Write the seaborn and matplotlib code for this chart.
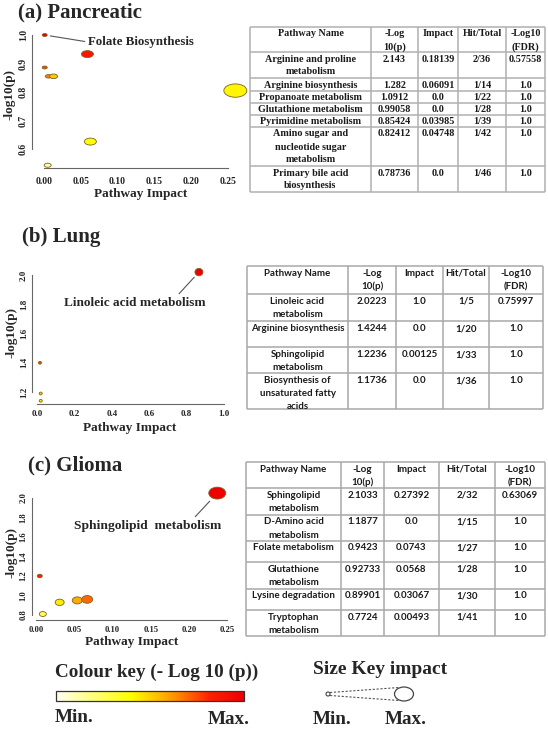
import numpy as np
import pandas as pd
import seaborn as sns
import matplotlib.pyplot as plt
from matplotlib.colors import LinearSegmentedColormap
from matplotlib.patches import Rectangle, Ellipse
from matplotlib.path import Path
from matplotlib.transforms import Affine2D

W, H = 548, 732

# ---- bubble data ----
# (a) Pancreatic
panc_impact = [0.001, 0.059, 0.001, 0.006, 0.013, 0.260, 0.063, 0.005]
panc_logp = [1.000, 0.933, 0.886, 0.855, 0.855, 0.805, 0.626, 0.543]
panc_colour = [1.00, 0.88, 0.76, 0.66, 0.52, 0.42, 0.40, 0.12]
panc_width = [5, 12, 5, 6, 8, 23, 12, 7]

# (b) Lung
lung_impact = [0.866, 0.016, 0.020, 0.020]
lung_logp = [2.02, 1.40, 1.19, 1.14]
lung_colour = [1.00, 0.78, 0.50, 0.45]
lung_width = [8, 3, 3, 3]

# (c) Glioma
glio_impact = [0.237, 0.005, 0.031, 0.054, 0.067, 0.009]
glio_logp = [2.05, 1.20, 0.93, 0.95, 0.96, 0.81]
glio_colour = [1.00, 0.84, 0.44, 0.58, 0.70, 0.25]
glio_width = [17, 5, 9, 10, 11, 7]

# ---- table contents ----
table_header = ["Pathway Name", "-Log\n10(p)", "Impact", "Hit/Total", "-Log10\n(FDR)"]

panc_names = ["Arginine and proline\nmetabolism", "Arginine biosynthesis",
              "Propanoate metabolism", "Glutathione metabolism",
              "Pyrimidine metabolism", "Amino sugar and\nnucleotide sugar\nmetabolism",
              "Primary bile acid\nbiosynthesis"]
panc_tab_logp = ["2.143", "1.282", "1.0912", "0.99058", "0.85424", "0.82412", "0.78736"]
panc_tab_impact = ["0.18139", "0.06091", "0.0", "0.0", "0.03985", "0.04748", "0.0"]
panc_hits = ["2/36", "1/14", "1/22", "1/28", "1/39", "1/42", "1/46"]
panc_fdr = ["0.57558", "1.0", "1.0", "1.0", "1.0", "1.0", "1.0"]

lung_names = ["Linoleic acid\nmetabolism", "Arginine biosynthesis",
              "Sphingolipid\nmetabolism", "Biosynthesis of\nunsaturated fatty\nacids"]
lung_tab_logp = ["2.0223", "1.4244", "1.2236", "1.1736"]
lung_tab_impact = ["1.0", "0.0", "0.00125", "0.0"]
lung_hits = ["1/5", "1/20", "1/33", "1/36"]
lung_fdr = ["0.75997", "1.0", "1.0", "1.0"]

glio_names = ["Sphingolipid\nmetabolism", "D-Amino acid\nmetabolism", "Folate metabolism",
              "Glutathione\nmetabolism", "Lysine degradation", "Tryptophan\nmetabolism"]
glio_tab_logp = ["2.1033", "1.1877", "0.9423", "0.92733", "0.89901", "0.7724"]
glio_tab_impact = ["0.27392", "0.0", "0.0743", "0.0568", "0.03067", "0.00493"]
glio_hits = ["2/32", "1/15", "1/27", "1/28", "1/30", "1/41"]
glio_fdr = ["0.63069", "1.0", "1.0", "1.0", "1.0", "1.0"]

# ---- style ----
sns.set_style("white")
plt.rcParams["font.family"] = ["Liberation Serif", "DejaVu Serif"]
plt.rcParams["font.weight"] = "bold"
plt.rcParams["axes.labelweight"] = "bold"

heat = LinearSegmentedColormap.from_list(
    "heat", [(0.0, "#fffff2"), (0.4, "#ffff00"), (0.62, "#ff9900"),
             (0.82, "#ff2000"), (1.0, "#ee0000")])

fig = plt.figure(figsize=(W / 100, H / 100), dpi=100)
overlay = fig.add_axes([0, 0, 1, 1], zorder=0)
overlay.axis("off")


def px_axes(left, top, right, bottom):
    return fig.add_axes([left / W, 1 - bottom / H, (right - left) / W, (bottom - top) / H],
                        zorder=2)


def bubble_panel(box, impact, logp, colour, width, squash, xlim, ylim,
                 xticks, yticks, xfmt, tick_size, ylab_px, xlab_px, lab_size):
    ax = px_axes(*box)
    ax.set_facecolor("none")
    df = pd.DataFrame({"impact": impact, "logp": logp, "colour": colour, "width": width})
    marker = Path.unit_circle().transformed(Affine2D().scale(1.0, squash))
    sns.scatterplot(data=df, x="impact", y="logp", hue="colour", size="width",
                    palette=heat, hue_norm=(0, 1),
                    sizes={w: (w * 0.72) ** 2 for w in width},
                    marker=marker, edgecolor="#806020", linewidth=0.6,
                    legend=False, clip_on=False, ax=ax)
    ax.set_xlim(xlim)
    ax.set_ylim(ylim)
    ax.set_xticks(xticks)
    ax.set_xticklabels([xfmt.format(v) for v in xticks])
    ax.set_yticks(yticks)
    ax.set_yticklabels([f"{v:.1f}" for v in yticks])
    sns.despine(ax=ax)
    for side in ("left", "bottom"):
        ax.spines[side].set_color("#666666")
        ax.spines[side].set_linewidth(0.8)
    ax.spines["left"].set_bounds(yticks[0], yticks[-1])
    ax.spines["bottom"].set_bounds(xticks[0], xticks[-1])
    ax.tick_params(axis="both", direction="out", length=2.5, width=0.8, color="#666666",
                   labelsize=tick_size, labelcolor="#222222", pad=2)
    ax.tick_params(axis="y", labelrotation=90, pad=0.5)
    for lab in ax.get_yticklabels():
        lab.set_va("center")
    ax.set_xlabel("Pathway Impact", fontsize=lab_size)
    ax.set_ylabel("-log10(p)", fontsize=lab_size)
    left, top, right, bottom = box
    ax.yaxis.set_label_coords((ylab_px[0] - left) / (right - left),
                              (bottom - ylab_px[1]) / (bottom - top))
    ax.yaxis.label.set_va("center")
    ax.xaxis.set_label_coords((xlab_px[0] - left) / (right - left),
                              (bottom - xlab_px[1]) / (bottom - top))
    ax.xaxis.label.set_va("center")
    return ax


def draw_table(cols, rows, names, logp, impact, hits, fdr, family, size, weight,
               first, step, grid):
    body = [table_header] + [list(r) for r in zip(names, logp, impact, hits, fdr)]
    for x in cols:
        overlay.plot([x, x], [rows[0], rows[-1]], color=grid, lw=1.1, solid_capstyle="butt")
    for y in rows:
        overlay.plot([cols[0], cols[-1]], [y, y], color=grid, lw=1.1, solid_capstyle="butt")
    for r, row in enumerate(body):
        for c, txt in enumerate(row):
            for i, line in enumerate(txt.split("\n")):
                overlay.text((cols[c] + cols[c + 1]) / 2, rows[r] + first + i * step, line,
                             ha="center", va="center", family=family, fontsize=size,
                             fontweight=weight, color="#1a1a1a")


# ---- (a) Pancreatic ----
overlay.text(18, 12, "(a) Pancreatic", fontsize=15, ha="left", va="center")
ax_a = bubble_panel((32, 28, 248, 168), panc_impact, panc_logp, panc_colour, panc_width, 0.58,
                    (-0.0163, 0.2772), (0.5333, 1.0246),
                    [0.0, 0.05, 0.10, 0.15, 0.20, 0.25], [0.6, 0.7, 0.8, 0.9, 1.0],
                    "{:.2f}", 7, (10, 95), (141, 194), 9.5)
ax_a.tick_params(axis="x", pad=4)
ax_a.annotate("Folate Biosynthesis", xy=(panc_impact[0], panc_logp[0]),
              xytext=(88, H - 42), textcoords="figure pixels", ha="left", va="center",
              fontsize=9.3,
              arrowprops=dict(arrowstyle="-", color="#555555", lw=0.8, shrinkA=0, shrinkB=4,
                              relpos=(0, 0.5)))
draw_table([250, 371, 418, 458, 506, 545], [27, 52, 78, 91, 103, 115, 127, 166, 192],
           panc_names, panc_tab_logp, panc_tab_impact, panc_hits, panc_fdr,
           ["Liberation Serif"], 7.3, "bold", 7, 13, "#b0b0b0")

# ---- (b) Lung ----
overlay.text(22, 237, "(b) Lung", fontsize=15, ha="left", va="center")
ax_b = bubble_panel((32, 262, 232, 404), lung_impact, lung_logp, lung_colour, lung_width, 0.92,
                    (-0.0267, 1.0428), (1.118, 2.089),
                    [0.0, 0.2, 0.4, 0.6, 0.8, 1.0], [1.2, 1.4, 1.6, 1.8, 2.0],
                    "{:.1f}", 6.5, (12, 333), (130, 428), 9.5)
ax_b.annotate("Linoleic acid metabolism", xy=(lung_impact[0], lung_logp[0]),
              xytext=(135, H - 303), textcoords="figure pixels", ha="center", va="center",
              fontsize=9.5,
              arrowprops=dict(arrowstyle="-", color="#555555", lw=0.8, shrinkA=0, shrinkB=5,
                              relpos=(0.79, 1.0)))
draw_table([247, 348, 396, 443, 489, 543], [266, 294, 321, 347, 373, 409],
           lung_names, lung_tab_logp, lung_tab_impact, lung_hits, lung_fdr,
           ["Lato", "DejaVu Sans"], 7.0, "bold", 7.5, 13, "#a8a8a8")

# ---- (c) Glioma ----
overlay.text(28, 465, "(c) Glioma", fontsize=15, ha="left", va="center")
ax_c = bubble_panel((32, 485, 240, 620), glio_impact, glio_logp, glio_colour, glio_width, 0.7,
                    (-0.00513, 0.2667), (0.7487, 2.133),
                    [0.0, 0.05, 0.10, 0.15, 0.20, 0.25], [0.8, 1.0, 1.2, 1.4, 1.6, 1.8, 2.0],
                    "{:.2f}", 6.2, (12, 552), (132, 642), 9.5)
ax_c.annotate("Sphingolipid  metabolism", xy=(glio_impact[0], glio_logp[0]),
              xytext=(148, H - 526), textcoords="figure pixels", ha="center", va="center",
              fontsize=9.7,
              arrowprops=dict(arrowstyle="-", color="#555555", lw=0.8, shrinkA=0, shrinkB=8,
                              relpos=(0.8, 1.0)))
draw_table([246, 341, 384, 439, 495, 545], [462, 488, 515, 541, 562, 589, 610, 636],
           glio_names, glio_tab_logp, glio_tab_impact, glio_hits, glio_fdr,
           ["Lato", "DejaVu Sans"], 7.0, "bold", 7, 13.5, "#a8a8a8")

# ---- colour key ----
overlay.text(55, 672, "Colour key (- Log 10 (p))", fontsize=13.8, ha="left", va="center")
gradient = np.linspace(0, 1, 256)[None, :]
overlay.imshow(gradient, cmap=heat, extent=[56, 244, 701, 691], aspect="auto")
overlay.add_patch(Rectangle((56, 691), 188, 10, fill=False, ec="#333333", lw=0.9))
overlay.text(55, 718, "Min.", fontsize=13.8, ha="left", va="center")
overlay.text(208, 720, "Max.", fontsize=13.8, ha="left", va="center")

# ---- size key ----
overlay.text(313, 670, "Size Key impact", fontsize=14, ha="left", va="center")
overlay.add_patch(Ellipse((328, 694), 4, 4, fill=False, ec="#444444", lw=0.8))
overlay.add_patch(Ellipse((404, 694), 19, 14, fill=False, ec="#444444", lw=0.9))
overlay.plot([330, 399], [692.5, 687.5], ls=(0, (2, 1.5)), color="#555555", lw=0.8)
overlay.plot([330, 399], [695.5, 700.5], ls=(0, (2, 1.5)), color="#555555", lw=0.8)
overlay.text(313, 720, "Min.", fontsize=13.8, ha="left", va="center")
overlay.text(385, 720, "Max.", fontsize=13.8, ha="left", va="center")

overlay.set_xlim(0, W)
overlay.set_ylim(H, 0)

fig.savefig("out.png", dpi=100)
